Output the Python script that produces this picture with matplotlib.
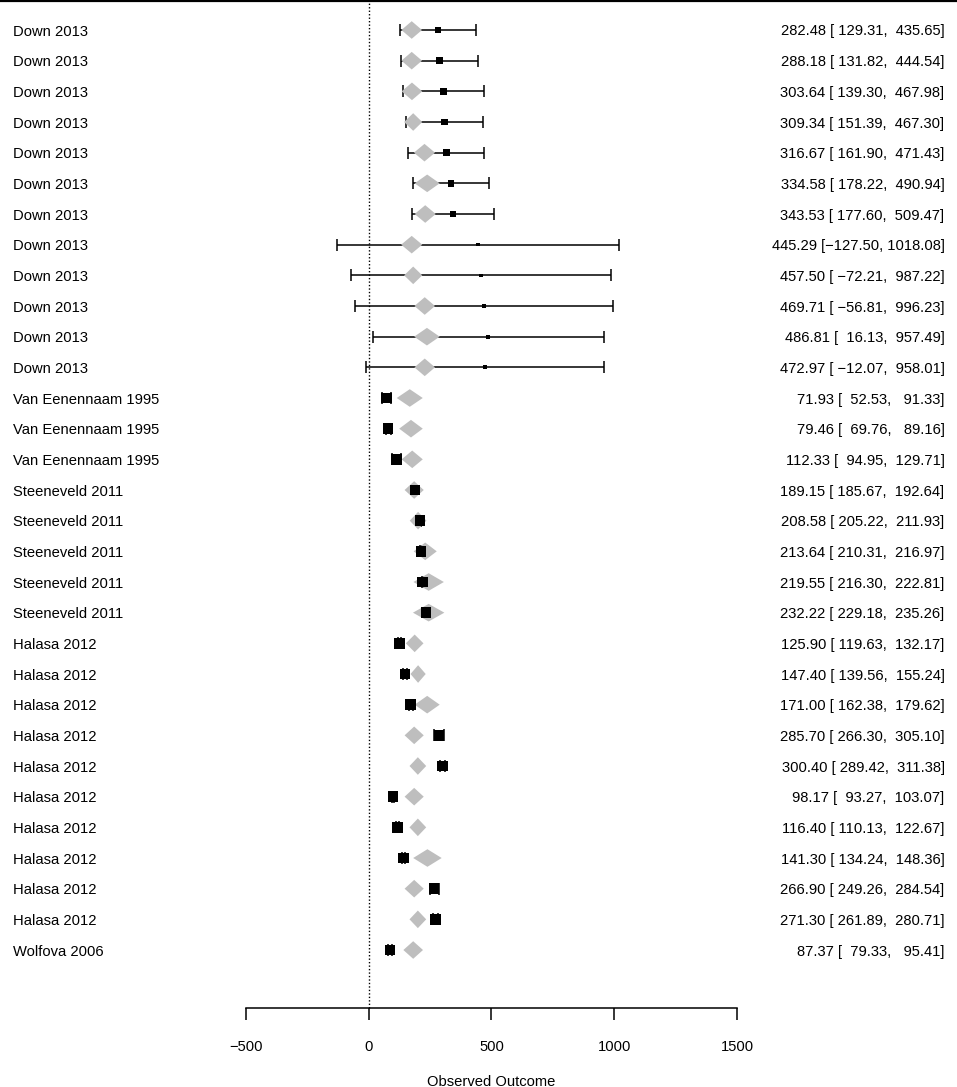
import numpy as np
import matplotlib.pyplot as plt

plt.rcParams['font.family'] = ['Liberation Sans', 'DejaVu Sans']

# study labels (one row each)
studies = (["Down 2013"] * 12 + ["Van Eenennaam 1995"] * 3 +
           ["Steeneveld 2011"] * 5 + ["Halasa 2012"] * 10 + ["Wolfova 2006"])

# observed outcomes with 95% CI
yi = [282.48, 288.18, 303.64, 309.34, 316.67, 334.58, 343.53, 445.29, 457.50,
      469.71, 486.81, 472.97, 71.93, 79.46, 112.33, 189.15, 208.58, 213.64,
      219.55, 232.22, 125.90, 147.40, 171.00, 285.70, 300.40, 98.17, 116.40,
      141.30, 266.90, 271.30, 87.37]
ci_lb = [129.31, 131.82, 139.30, 151.39, 161.90, 178.22, 177.60, -127.50, -72.21,
         -56.81, 16.13, -12.07, 52.53, 69.76, 94.95, 185.67, 205.22, 210.31,
         216.30, 229.18, 119.63, 139.56, 162.38, 266.30, 289.42, 93.27, 110.13,
         134.24, 249.26, 261.89, 79.33]
ci_ub = [435.65, 444.54, 467.98, 467.30, 471.43, 490.94, 509.47, 1018.08, 987.22,
         996.23, 957.49, 958.01, 91.33, 89.16, 129.71, 192.64, 211.93, 216.97,
         222.81, 235.26, 132.17, 155.24, 179.62, 305.10, 311.38, 103.07, 122.67,
         148.36, 284.54, 280.71, 95.41]

# fitted values (grey polygons)
fit = [175, 175, 176, 181, 227, 238, 230, 175, 181, 228, 237, 228, 167, 172, 177,
       185, 201, 230, 244, 244, 187, 201, 238, 185, 200, 185, 200, 239, 185, 200, 181]
fit_half = [42, 42, 42, 37, 43, 51, 43, 43, 37, 42, 52, 42, 53, 48, 43,
            39, 34, 47, 62, 64, 36, 31, 51, 39, 34, 39, 34, 58, 39, 34, 40]

xticks = [-500, 0, 500, 1000, 1500]

yi = np.array(yi)
lb = np.array(ci_lb)
ub = np.array(ci_ub)
fit = np.array(fit)
fit_half = np.array(fit_half)
n = len(yi)
rows = np.arange(n, 0, -1)

# pixel layout helpers
H = 1087
sp = 30.667          # row spacing in px
top_px = 30.0        # first row position in px


def ypix(p):
    return n - (p - top_px) / sp


# square sizes from weights
se = (ub - lb) / 3.92
w = 1.0 / (se ** 2 + 6000.0)
psize = 0.5 + (w - w.min()) / (w.max() - w.min())
side_pt = psize * 7.0 * 72 / 100

fig = plt.figure(figsize=(9.57, 10.87), dpi=100)
ax = fig.add_axes([0, 0, 1, 1])
ax.set_xlim(-368.75 / 0.2455, (957 - 368.75) / 0.2455)
ax.set_ylim(ypix(H), ypix(0))

fs = 10.6
grey = '#BEBEBE'
hh = 8.8 / sp
text_off = 5.5 / sp

for k in range(n):
    y = rows[k]
    ax.errorbar(yi[k], y, xerr=[[yi[k] - lb[k]], [ub[k] - yi[k]]], fmt='none',
                ecolor='black', elinewidth=1.1, capsize=4.5, capthick=1.1, zorder=1)
    ax.fill([fit[k] - fit_half[k], fit[k], fit[k] + fit_half[k], fit[k]],
            [y, y + hh, y, y - hh], color=grey, lw=0, zorder=2)
    ax.text(12.7 / 957, y - text_off, studies[k], transform=ax.get_yaxis_transform(),
            ha='left', va='baseline', fontsize=fs)
    ann = f"{yi[k]:.2f} [{lb[k]:7.2f}, {ub[k]:7.2f}]".replace('-', '\u2212')
    ax.text(944.5 / 957, y - text_off, ann, transform=ax.get_yaxis_transform(),
            ha='right', va='baseline', fontsize=fs)

ax.scatter(yi, rows, marker='s', s=side_pt ** 2, c='black', linewidths=0, zorder=3)

axis_y = ypix(1008)
ax.plot([0, 0], [axis_y, ypix(0)], color='black', lw=1.0, ls=(0, (1, 1.5)), zorder=0)
ax.axhline(ypix(1.2), color='black', lw=1.6)

for s in ['left', 'top', 'right']:
    ax.spines[s].set_visible(False)
ax.spines['bottom'].set_position(('data', axis_y))
ax.spines['bottom'].set_bounds(-500, 1500)
ax.spines['bottom'].set_linewidth(1.1)
ax.set_yticks([])
ax.set_xticks(xticks)
ax.tick_params(axis='x', direction='out', length=8.6, width=1.1, pad=14.5, labelsize=fs)

ax.text(500, ypix(1086), "Observed Outcome", ha='center', va='baseline', fontsize=fs)

fig.savefig('out.png', dpi=100)
